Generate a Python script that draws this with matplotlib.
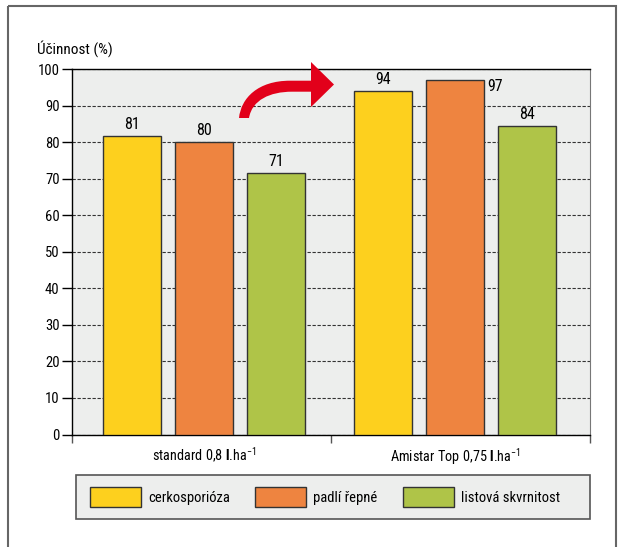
import numpy as np
import matplotlib.pyplot as plt
from matplotlib.patches import Rectangle, PathPatch
from matplotlib.path import Path
from matplotlib.transforms import Affine2D

plt.rcParams['font.family'] = ['Roboto Condensed', 'Archivo Narrow', 'DejaVu Sans']
plt.rcParams['mathtext.fontset'] = 'custom'
plt.rcParams['mathtext.rm'] = 'Roboto Condensed'
plt.rcParams['mathtext.bf'] = 'Roboto Condensed:bold'

# data
groups = [r"standard 0,8 $\mathbf{l}$.ha$^{-1}$", r"Amistar Top 0,75 $\mathbf{l}$.ha$^{-1}$"]
series = ["cerkosporióza", "padlí řepné", "listová skvrnitost"]
values = [[81.7, 94.0], [80.0, 97.0], [71.5, 84.4]]
labels = [["81", "94"], ["80", "97"], ["71", "84"]]
colors = ["#fdd01e", "#ee8440", "#afc448"]

W, H = 619, 547
fig = plt.figure(figsize=(W / 100, H / 100), dpi=100)
px = Affine2D().scale(1 / W, -1 / H).translate(0, 1) + fig.transFigure

# outer frame
fig.patches.append(Rectangle((8, 6), 608, 560, transform=px, fill=False,
                             edgecolor="#666666", lw=1.5, zorder=-1))

ax = fig.add_axes([72 / W, 1 - 434.5 / H, (590 - 72) / W, (434.5 - 69.3) / H])
ax.set_facecolor("#edeeed")

x = np.arange(len(groups))
width = 0.233
step = 0.287
for i, (name, vals, labs, c) in enumerate(zip(series, values, labels, colors)):
    xs = x + (i - 1) * step
    ax.bar(xs, vals, width, color=c, edgecolor="#333333", lw=1, label=name, zorder=3)
    for xi, v, lab in zip(xs, vals, labs):
        if v > 96:
            ax.annotate(lab, (xi + width / 2, v), xytext=(2, -4.5), textcoords="offset points",
                        ha="left", va="center", fontsize=11.5)
        else:
            ax.annotate(lab, (xi, v), xytext=(0, 3), textcoords="offset points",
                        ha="center", va="bottom", fontsize=11.5)

ax.set_ylim(0, 100)
ax.set_yticks(np.arange(0, 101, 10))
ax.set_xlim(-0.527, 1.539)
ax.set_xticks(x, groups)
ax.set_xticks([-0.527, 0.506, 1.539], minor=True)
ax.tick_params(axis="x", which="major", length=0, pad=8, labelsize=10.3)
ax.tick_params(axis="x", which="minor", length=5.5, width=1, color="#555555")
ax.tick_params(axis="y", length=7, width=1, pad=2, labelsize=10.5)
ax.set_axisbelow(True)
ax.yaxis.grid(True, color="#333333", lw=0.8, linestyle=(0, (3, 1.5)))
for s in ["left", "bottom", "top"]:
    ax.spines[s].set_color("black")
    ax.spines[s].set_linewidth(1)
ax.spines["right"].set_color("#777777")

fig.text(37 / W, 1 - 49 / H, "Účinnost (%)", ha="left", va="center", fontsize=11)

# red arrow
verts = [(239, 118), (241, 98), (258, 80.7), (290, 80.7), (311, 80.7), (311, 62), (334, 84.5),
         (311, 107), (311, 91.7), (292, 91.7), (270, 91.7), (252, 100), (249, 118), (239, 118)]
codes = [Path.MOVETO, Path.CURVE4, Path.CURVE4, Path.CURVE4, Path.LINETO, Path.LINETO, Path.LINETO,
         Path.LINETO, Path.LINETO, Path.LINETO, Path.CURVE4, Path.CURVE4, Path.CURVE4, Path.CLOSEPOLY]
fig.patches.append(PathPatch(Path(verts, codes), transform=px, facecolor="#e2001a", edgecolor="none"))

# legend
fig.patches.append(Rectangle((76, 475), 514, 44, transform=px, facecolor="#edeeed",
                             edgecolor="#555555", lw=1.2, zorder=-1))
leg = ax.legend(loc="center left", bbox_to_anchor=(90 / W, 1 - 497 / H), bbox_transform=fig.transFigure,
                ncol=3, frameon=False, fontsize=10.5, handlelength=3.5, handleheight=1.8,
                handletextpad=0.48, columnspacing=1.75, borderpad=0, borderaxespad=0)
for h in leg.legend_handles:
    h.set_edgecolor("#333333")

fig.savefig("out.png", dpi=100)
